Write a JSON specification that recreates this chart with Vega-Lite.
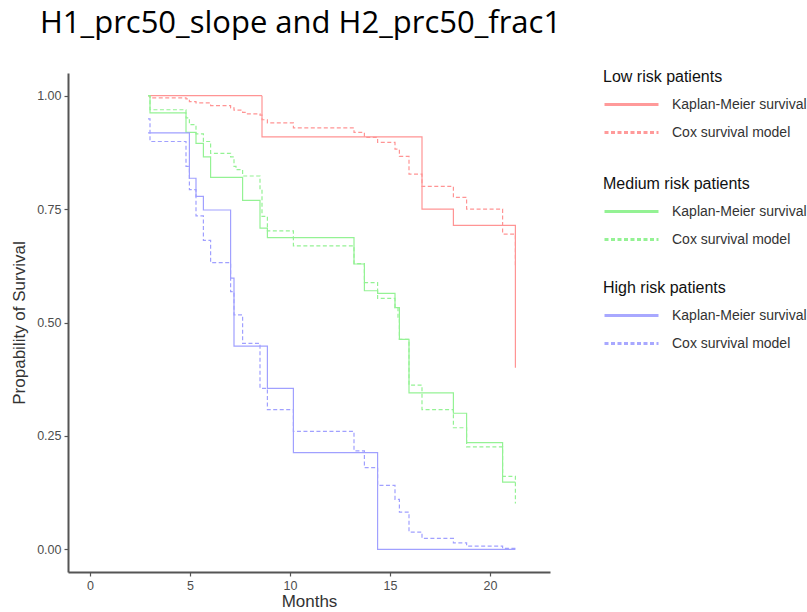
{
  "$schema": "https://vega.github.io/schema/vega-lite/v6.json",
  "width": 482,
  "height": 499,
  "autosize": "none",
  "padding": {"left": 68, "top": 73, "right": 257, "bottom": 40},
  "background": "white",
  "title": {
    "text": "H1_prc50_slope and H2_prc50_frac1",
    "anchor": "start",
    "frame": "group",
    "dx": -28,
    "offset": 5,
    "baseline": "alphabetic",
    "font": "Open Sans",
    "fontSize": 31,
    "fontWeight": "normal",
    "color": "#000000"
  },
  "config": {
    "view": {"stroke": null},
    "axis": {
      "grid": false,
      "domainColor": "#555555",
      "domainWidth": 2,
      "tickColor": "#555555",
      "tickWidth": 1.2,
      "tickSize": 4,
      "labelFont": "Liberation Sans",
      "labelFontSize": 12.5,
      "labelColor": "#4d4d4d",
      "titleFont": "Liberation Sans",
      "titleFontSize": 17,
      "titleFontWeight": "normal",
      "titleColor": "#333333"
    }
  },
  "data": {
    "values": [
      {"group": "Low", "model": "Kaplan-Meier survival", "month": 2.9, "surv": 1.0},
      {"group": "Low", "model": "Kaplan-Meier survival", "month": 8.6, "surv": 0.909},
      {"group": "Low", "model": "Kaplan-Meier survival", "month": 16.6, "surv": 0.75},
      {"group": "Low", "model": "Kaplan-Meier survival", "month": 18.17, "surv": 0.714},
      {"group": "Low", "model": "Kaplan-Meier survival", "month": 21.27, "surv": 0.40},

      {"group": "Low", "model": "Cox survival model", "month": 2.9, "surv": 1.0},
      {"group": "Low", "model": "Cox survival model", "month": 3.0, "surv": 0.995},
      {"group": "Low", "model": "Cox survival model", "month": 4.8, "surv": 0.993},
      {"group": "Low", "model": "Cox survival model", "month": 4.97, "surv": 0.987},
      {"group": "Low", "model": "Cox survival model", "month": 5.3, "surv": 0.984},
      {"group": "Low", "model": "Cox survival model", "month": 6.03, "surv": 0.978},
      {"group": "Low", "model": "Cox survival model", "month": 7.03, "surv": 0.973},
      {"group": "Low", "model": "Cox survival model", "month": 7.2, "surv": 0.968},
      {"group": "Low", "model": "Cox survival model", "month": 7.63, "surv": 0.963},
      {"group": "Low", "model": "Cox survival model", "month": 7.83, "surv": 0.96},
      {"group": "Low", "model": "Cox survival model", "month": 8.5, "surv": 0.957},
      {"group": "Low", "model": "Cox survival model", "month": 8.6, "surv": 0.947},
      {"group": "Low", "model": "Cox survival model", "month": 8.87, "surv": 0.94},
      {"group": "Low", "model": "Cox survival model", "month": 10.17, "surv": 0.929},
      {"group": "Low", "model": "Cox survival model", "month": 13.2, "surv": 0.919},
      {"group": "Low", "model": "Cox survival model", "month": 13.72, "surv": 0.908},
      {"group": "Low", "model": "Cox survival model", "month": 14.38, "surv": 0.897},
      {"group": "Low", "model": "Cox survival model", "month": 15.25, "surv": 0.882},
      {"group": "Low", "model": "Cox survival model", "month": 15.47, "surv": 0.866},
      {"group": "Low", "model": "Cox survival model", "month": 15.95, "surv": 0.827},
      {"group": "Low", "model": "Cox survival model", "month": 16.6, "surv": 0.80},
      {"group": "Low", "model": "Cox survival model", "month": 18.17, "surv": 0.776},
      {"group": "Low", "model": "Cox survival model", "month": 18.83, "surv": 0.75},
      {"group": "Low", "model": "Cox survival model", "month": 20.63, "surv": 0.695},
      {"group": "Low", "model": "Cox survival model", "month": 21.27, "surv": 0.623},

      {"group": "Medium", "model": "Kaplan-Meier survival", "month": 2.9, "surv": 1.0},
      {"group": "Medium", "model": "Kaplan-Meier survival", "month": 3.0, "surv": 0.962},
      {"group": "Medium", "model": "Kaplan-Meier survival", "month": 4.8, "surv": 0.919},
      {"group": "Medium", "model": "Kaplan-Meier survival", "month": 5.3, "surv": 0.895},
      {"group": "Medium", "model": "Kaplan-Meier survival", "month": 5.67, "surv": 0.865},
      {"group": "Medium", "model": "Kaplan-Meier survival", "month": 6.03, "surv": 0.82},
      {"group": "Medium", "model": "Kaplan-Meier survival", "month": 7.63, "surv": 0.769},
      {"group": "Medium", "model": "Kaplan-Meier survival", "month": 8.5, "surv": 0.708},
      {"group": "Medium", "model": "Kaplan-Meier survival", "month": 8.87, "surv": 0.687},
      {"group": "Medium", "model": "Kaplan-Meier survival", "month": 13.2, "surv": 0.629},
      {"group": "Medium", "model": "Kaplan-Meier survival", "month": 13.72, "surv": 0.570},
      {"group": "Medium", "model": "Kaplan-Meier survival", "month": 14.38, "surv": 0.564},
      {"group": "Medium", "model": "Kaplan-Meier survival", "month": 15.25, "surv": 0.533},
      {"group": "Medium", "model": "Kaplan-Meier survival", "month": 15.47, "surv": 0.463},
      {"group": "Medium", "model": "Kaplan-Meier survival", "month": 15.95, "surv": 0.345},
      {"group": "Medium", "model": "Kaplan-Meier survival", "month": 18.17, "surv": 0.30},
      {"group": "Medium", "model": "Kaplan-Meier survival", "month": 18.83, "surv": 0.235},
      {"group": "Medium", "model": "Kaplan-Meier survival", "month": 20.63, "surv": 0.148},
      {"group": "Medium", "model": "Kaplan-Meier survival", "month": 21.27, "surv": 0.148},

      {"group": "Medium", "model": "Cox survival model", "month": 2.9, "surv": 1.0},
      {"group": "Medium", "model": "Cox survival model", "month": 3.0, "surv": 0.969},
      {"group": "Medium", "model": "Cox survival model", "month": 4.8, "surv": 0.951},
      {"group": "Medium", "model": "Cox survival model", "month": 4.97, "surv": 0.936},
      {"group": "Medium", "model": "Cox survival model", "month": 5.3, "surv": 0.916},
      {"group": "Medium", "model": "Cox survival model", "month": 5.67, "surv": 0.899},
      {"group": "Medium", "model": "Cox survival model", "month": 6.03, "surv": 0.873},
      {"group": "Medium", "model": "Cox survival model", "month": 7.03, "surv": 0.865},
      {"group": "Medium", "model": "Cox survival model", "month": 7.2, "surv": 0.844},
      {"group": "Medium", "model": "Cox survival model", "month": 7.3, "surv": 0.837},
      {"group": "Medium", "model": "Cox survival model", "month": 7.63, "surv": 0.823},
      {"group": "Medium", "model": "Cox survival model", "month": 8.5, "surv": 0.793},
      {"group": "Medium", "model": "Cox survival model", "month": 8.6, "surv": 0.734},
      {"group": "Medium", "model": "Cox survival model", "month": 8.87, "surv": 0.702},
      {"group": "Medium", "model": "Cox survival model", "month": 10.17, "surv": 0.669},
      {"group": "Medium", "model": "Cox survival model", "month": 13.2, "surv": 0.63},
      {"group": "Medium", "model": "Cox survival model", "month": 13.72, "surv": 0.588},
      {"group": "Medium", "model": "Cox survival model", "month": 14.38, "surv": 0.553},
      {"group": "Medium", "model": "Cox survival model", "month": 15.25, "surv": 0.533},
      {"group": "Medium", "model": "Cox survival model", "month": 15.4, "surv": 0.509},
      {"group": "Medium", "model": "Cox survival model", "month": 15.47, "surv": 0.463},
      {"group": "Medium", "model": "Cox survival model", "month": 15.95, "surv": 0.362},
      {"group": "Medium", "model": "Cox survival model", "month": 16.6, "surv": 0.308},
      {"group": "Medium", "model": "Cox survival model", "month": 18.17, "surv": 0.268},
      {"group": "Medium", "model": "Cox survival model", "month": 18.83, "surv": 0.226},
      {"group": "Medium", "model": "Cox survival model", "month": 20.63, "surv": 0.161},
      {"group": "Medium", "model": "Cox survival model", "month": 21.27, "surv": 0.101},

      {"group": "High", "model": "Kaplan-Meier survival", "month": 2.9, "surv": 0.918},
      {"group": "High", "model": "Kaplan-Meier survival", "month": 4.97, "surv": 0.818},
      {"group": "High", "model": "Kaplan-Meier survival", "month": 5.3, "surv": 0.778},
      {"group": "High", "model": "Kaplan-Meier survival", "month": 5.67, "surv": 0.748},
      {"group": "High", "model": "Kaplan-Meier survival", "month": 7.03, "surv": 0.598},
      {"group": "High", "model": "Kaplan-Meier survival", "month": 7.2, "surv": 0.448},
      {"group": "High", "model": "Kaplan-Meier survival", "month": 8.87, "surv": 0.355},
      {"group": "High", "model": "Kaplan-Meier survival", "month": 10.17, "surv": 0.213},
      {"group": "High", "model": "Kaplan-Meier survival", "month": 14.38, "surv": 0.0},
      {"group": "High", "model": "Kaplan-Meier survival", "month": 21.27, "surv": 0.0},

      {"group": "High", "model": "Cox survival model", "month": 2.9, "surv": 0.949},
      {"group": "High", "model": "Cox survival model", "month": 3.0, "surv": 0.899},
      {"group": "High", "model": "Cox survival model", "month": 4.8, "surv": 0.844},
      {"group": "High", "model": "Cox survival model", "month": 4.97, "surv": 0.793},
      {"group": "High", "model": "Cox survival model", "month": 5.3, "surv": 0.735},
      {"group": "High", "model": "Cox survival model", "month": 5.67, "surv": 0.681},
      {"group": "High", "model": "Cox survival model", "month": 6.03, "surv": 0.632},
      {"group": "High", "model": "Cox survival model", "month": 7.03, "surv": 0.568},
      {"group": "High", "model": "Cox survival model", "month": 7.2, "surv": 0.517},
      {"group": "High", "model": "Cox survival model", "month": 7.63, "surv": 0.454},
      {"group": "High", "model": "Cox survival model", "month": 8.5, "surv": 0.355},
      {"group": "High", "model": "Cox survival model", "month": 8.87, "surv": 0.308},
      {"group": "High", "model": "Cox survival model", "month": 10.17, "surv": 0.26},
      {"group": "High", "model": "Cox survival model", "month": 13.2, "surv": 0.217},
      {"group": "High", "model": "Cox survival model", "month": 13.72, "surv": 0.18},
      {"group": "High", "model": "Cox survival model", "month": 14.38, "surv": 0.141},
      {"group": "High", "model": "Cox survival model", "month": 15.25, "surv": 0.11},
      {"group": "High", "model": "Cox survival model", "month": 15.47, "surv": 0.082},
      {"group": "High", "model": "Cox survival model", "month": 15.95, "surv": 0.038},
      {"group": "High", "model": "Cox survival model", "month": 16.6, "surv": 0.024},
      {"group": "High", "model": "Cox survival model", "month": 18.17, "surv": 0.014},
      {"group": "High", "model": "Cox survival model", "month": 18.83, "surv": 0.007},
      {"group": "High", "model": "Cox survival model", "month": 20.63, "surv": 0.002},
      {"group": "High", "model": "Cox survival model", "month": 21.27, "surv": 0.002}
    ]
  },
  "encoding": {
    "x": {
      "field": "month",
      "type": "quantitative",
      "title": "Months",
      "scale": {"domain": [-1.1, 23], "nice": false, "zero": false},
      "axis": {"values": [0, 5, 10, 15, 20], "labelPadding": 3, "titlePadding": 2}
    },
    "y": {
      "field": "surv",
      "type": "quantitative",
      "title": "Propability of Survival",
      "scale": {"domain": [-0.05, 1.05], "nice": false, "zero": false},
      "axis": {"values": [0, 0.25, 0.5, 0.75, 1], "format": ".2f", "labelPadding": 3, "titlePadding": 8}
    }
  },
  "layer": [
    {
      "transform": [{"filter": "datum.group === 'Low'"}],
      "mark": {"type": "line", "interpolate": "step-after", "color": "#ff9494", "strokeWidth": 1.2},
      "encoding": {
        "strokeDash": {
          "field": "model", "type": "nominal",
          "scale": {"domain": ["Kaplan-Meier survival", "Cox survival model"], "range": [[1, 0], [4, 2.5]]},
          "legend": {
            "title": "Low risk patients", "orient": "none", "legendX": 535, "legendY": -4,
            "symbolType": "M-1,0H8", "symbolSize": 144, "symbolStrokeWidth": 3, "symbolStrokeColor": "#ff9a9a",
            "symbolFillColor": "transparent", "symbolOpacity": 1, "labelOffset": 54, "labelLimit": 0,
            "labelFont": "Liberation Sans", "labelFontSize": 14, "labelColor": "#333333",
            "titleFont": "Liberation Sans", "titleFontSize": 16, "titleFontWeight": "normal", "titleColor": "#111111",
            "titlePadding": 12, "rowPadding": 13, "padding": 0
          }
        }
      }
    },
    {
      "transform": [{"filter": "datum.group === 'Medium'"}],
      "mark": {"type": "line", "interpolate": "step-after", "color": "#94f294", "strokeWidth": 1.2},
      "encoding": {
        "strokeDash": {
          "field": "model", "type": "nominal",
          "scale": {"domain": ["Kaplan-Meier survival", "Cox survival model"], "range": [[1, 0], [4, 2.5]]},
          "legend": {
            "title": "Medium risk patients", "orient": "none", "legendX": 535, "legendY": 103,
            "symbolType": "M-1,0H8", "symbolSize": 144, "symbolStrokeWidth": 3, "symbolStrokeColor": "#94f294",
            "symbolFillColor": "transparent", "symbolOpacity": 1, "labelOffset": 54, "labelLimit": 0,
            "labelFont": "Liberation Sans", "labelFontSize": 14, "labelColor": "#333333",
            "titleFont": "Liberation Sans", "titleFontSize": 16, "titleFontWeight": "normal", "titleColor": "#111111",
            "titlePadding": 12, "rowPadding": 13, "padding": 0
          }
        }
      }
    },
    {
      "transform": [{"filter": "datum.group === 'High'"}],
      "mark": {"type": "line", "interpolate": "step-after", "color": "#a0a0ff", "strokeWidth": 1.2},
      "encoding": {
        "strokeDash": {
          "field": "model", "type": "nominal",
          "scale": {"domain": ["Kaplan-Meier survival", "Cox survival model"], "range": [[1, 0], [4, 2.5]]},
          "legend": {
            "title": "High risk patients", "orient": "none", "legendX": 535, "legendY": 207,
            "symbolType": "M-1,0H8", "symbolSize": 144, "symbolStrokeWidth": 3, "symbolStrokeColor": "#a8a8ff",
            "symbolFillColor": "transparent", "symbolOpacity": 1, "labelOffset": 54, "labelLimit": 0,
            "labelFont": "Liberation Sans", "labelFontSize": 14, "labelColor": "#333333",
            "titleFont": "Liberation Sans", "titleFontSize": 16, "titleFontWeight": "normal", "titleColor": "#111111",
            "titlePadding": 12, "rowPadding": 13, "padding": 0
          }
        }
      }
    }
  ],
  "resolve": {"scale": {"strokeDash": "independent"}, "legend": {"strokeDash": "independent"}}
}
